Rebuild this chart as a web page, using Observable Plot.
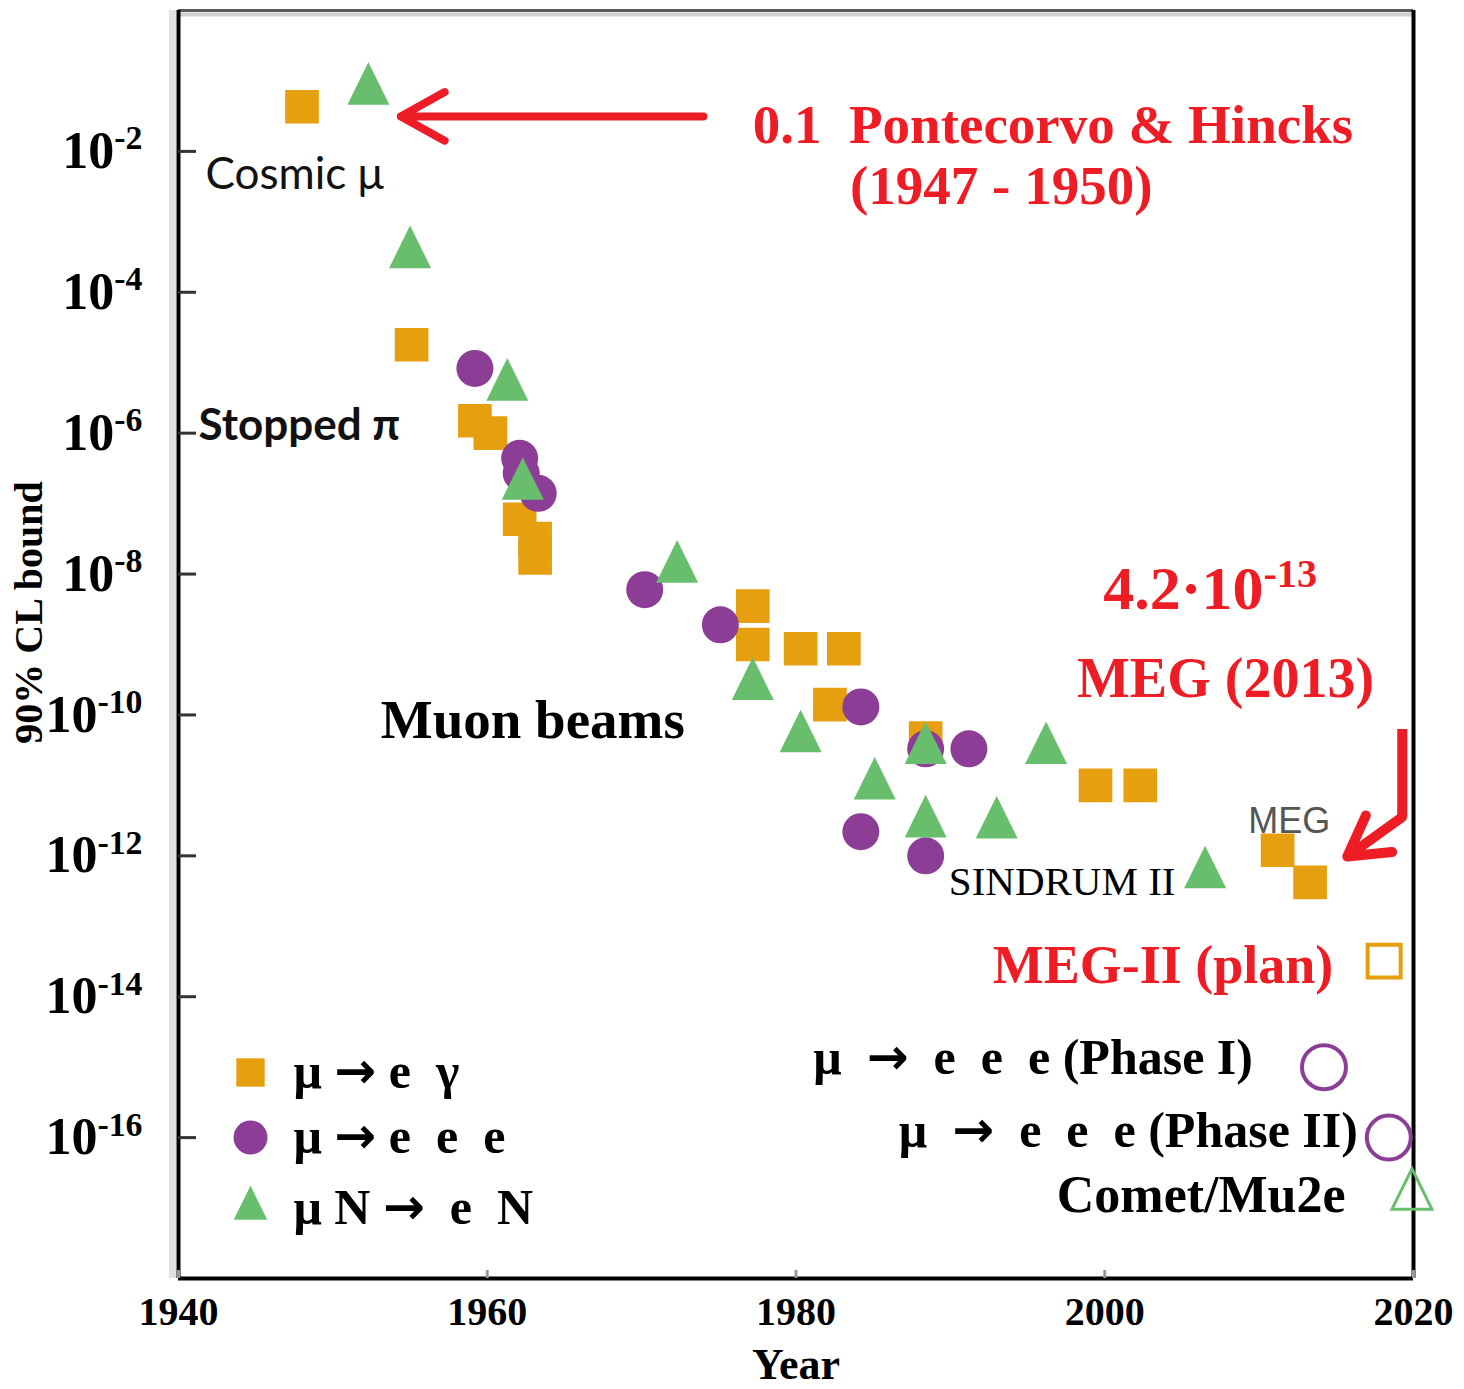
<!DOCTYPE html>
<html>
<head>
<meta charset="utf-8">
<script src="https://cdn.jsdelivr.net/npm/d3@7"></script>
<script src="https://cdn.jsdelivr.net/npm/@observablehq/plot@0.6"></script>
<style>
  html, body { margin: 0; padding: 0; background: #fff; }
  #chart { width: 1464px; height: 1389px; overflow: hidden; }
</style>
</head>
<body>
<div id="chart"></div>
<script>
// ---- data: 90% CL upper bounds on charged lepton flavour violating muon decays ----
const processes = ["μ → e  γ", "μ → e  e  e", "μ N →  e  N"];

// μ → e γ
const muEGammaYear  = [1948.0, 1955.1, 1959.2, 1960.2, 1962.1, 1963.1, 1963.1, 1977.2, 1977.2, 1980.3, 1983.1, 1982.2, 1988.4, 1999.4, 2002.3, 2011.2, 2013.3];
const muEGammaBound = [4.3e-2, 1.8e-5, 1.5e-6, 1.0e-6, 6.0e-8, 3.2e-8, 1.7e-8, 3.5e-9, 1.0e-9, 8.7e-10, 8.7e-10, 1.4e-10, 4.7e-11, 1.0e-11, 1.0e-11, 1.2e-12, 4.2e-13];

// μ → e e e
const muEEEYear  = [1959.2, 1962.1, 1962.2, 1963.3, 1970.2, 1975.1, 1984.2, 1988.4, 1991.2, 1984.2, 1988.4];
const muEEEBound = [8.3e-6, 4.4e-7, 2.7e-7, 1.4e-7, 6.0e-9, 1.9e-9, 1.3e-10, 3.3e-11, 3.3e-11, 2.2e-12, 1.0e-12];

// μ N → e N
const muNENYear  = [1952.3, 1955.0, 1961.3, 1962.3, 1972.3, 1977.2, 1980.3, 1988.4, 1985.1, 1996.2, 1988.4, 1993.0, 2006.5];
const muNENBound = [7.3e-2, 3.5e-4, 4.6e-6, 1.8e-7, 1.2e-8, 2.6e-10, 4.7e-11, 3.2e-11, 1.0e-11, 3.2e-11, 2.9e-12, 2.8e-12, 5.5e-13];

// planned sensitivities (open symbols)
const planProcess = [0, 1, 1, 2];
const planYear    = [2018.1, 2014.2, 2018.4, 2019.9];
const planBound   = [3.2e-14, 1.0e-15, 1.0e-16, 1.5e-17];

// axis ticks
const xTicks = [1940, 1960, 1980, 2000, 2020];
const yTicks = [1e-2, 1e-4, 1e-6, 1e-8, 1e-10, 1e-12, 1e-14, 1e-16];

// text annotations placed in data space (year, bound)
const notes = {
  cosmic:  {text: "Cosmic μ", year: 1941.75, at: 10 ** -2.54},
  stopped: {text: "Stopped π", year: 1941.3, at: 10 ** -6.09},
  beams:   {text: "Muon beams", year: 1953.1, at: 10 ** -10.33},
  ponte1:  {text: "0.1  Pontecorvo & Hincks", year: 1977.2, at: 10 ** -1.886},
  ponte2:  {text: "(1947 - 1950)", year: 1983.5, at: 10 ** -2.74},
  megVal:  {text: "4.2·10^-13", year: 1999.9, at: 10 ** -8.5},
  meg2013: {text: "MEG (2013)", year: 1998.2, at: 10 ** -9.74},
  meg:     {text: "MEG", year: 2009.3, at: 10 ** -11.68},
  sindrum: {text: "SINDRUM II", year: 1989.9, at: 10 ** -12.55},
  megII:   {text: "MEG-II (plan)", year: 2014.8, at: 10 ** -13.81},
  phase1:  {text: "μ  →  e  e  e (Phase I)", year: 2009.6, at: 10 ** -15.09},
  phase2:  {text: "μ  →  e  e  e (Phase II)", year: 2016.4, at: 10 ** -16.13},
  comet:   {text: "Comet/Mu2e", year: 2015.6, at: 10 ** -17.05}
};

// arrows
const ponteArrow = {x1: 1974.0, y1: 10 ** -1.503, x2: 1954.4, y2: 10 ** -1.503};
const megDrop = {x: 2019.27, y1: 10 ** -10.2, y2: 10 ** -11.45};
const megTip = {x: 2015.71, y: 10 ** -12.01};

// ---- styling ----
const SERIF = '"Liberation Serif", "Times New Roman", Times, serif';
const SANS = 'Lato, "Open Sans", sans-serif';
const ORANGE = "#E69F0E", PURPLE = "#8C3D96", GREEN = "#69BE6E", RED = "#EE1C25";

// isosceles triangle, centred on its centroid
const tallTriangle = {
  draw(context, size) {
    const r = Math.sqrt(size / Math.PI);
    context.moveTo(0, -1.42 * r);
    context.lineTo(1.05 * r, 0.71 * r);
    context.lineTo(-1.05 * r, 0.71 * r);
    context.closePath();
  }
};

const rows = (years, bounds) => years.map((year, i) => ({year, bound: bounds[i]}));
const muEGamma = rows(muEGammaYear, muEGammaBound);
const muEEE = rows(muEEEYear, muEEEBound);
const muNEN = rows(muNENYear, muNENBound);
const plans = planYear.map((year, i) => ({year, bound: planBound[i], process: planProcess[i]}));

const note = (key, options) => Plot.text([notes[key]], {
  x: "year", y: "at", text: "text", lineAnchor: "bottom", textAnchor: "start",
  fontFamily: SERIF, fontWeight: "bold", fill: "#000", ...options
});

// the bend of the MEG arrow: extend the diagonal backwards so the head keeps full size
const k = 2;
const megHead = {
  x1: megTip.x + k * (megDrop.x - megTip.x),
  y1: 10 ** (Math.log10(megTip.y) + k * (Math.log10(megDrop.y2) - Math.log10(megTip.y))),
  x2: megTip.x, y2: megTip.y
};

const legendRow = [-206, -141, -70];

const plot = Plot.plot({
  width: 1464,
  height: 1389,
  marginLeft: 178,
  marginRight: 51,
  marginTop: 10,
  marginBottom: 111,
  style: {fontFamily: SERIF, fontWeight: "bold", background: "white", color: "#000"},
  x: {domain: [1940, 2020], label: null},
  y: {type: "log", domain: [1e-18, 1], label: null},
  marks: [
    // frame
    Plot.ruleX([1940], {stroke: "#e0e0e0", strokeWidth: 7, dx: -6}),
    Plot.ruleY([1], {stroke: "#d0d0d0", strokeWidth: 4, dy: 4}),
    Plot.ruleY([1], {stroke: "#5a5a5a", strokeWidth: 3}),
    Plot.ruleX([1940, 2020], {stroke: "#000", strokeWidth: 4}),
    Plot.ruleY([1e-18], {stroke: "#000", strokeWidth: 4}),

    // axes with inward ticks
    Plot.axisX(xTicks, {
      tickSize: 8, dy: -8, tickPadding: 18, stroke: "#999", strokeWidth: 3,
      fill: "#000", fontSize: 40, fontWeight: "bold", tickFormat: "d", label: null
    }),
    Plot.axisY(yTicks, {
      tickSize: 18, dx: 18, tickPadding: 36, stroke: "#333", strokeWidth: 3,
      fill: "#000", fontSize: 52, fontWeight: "bold",
      tickFormat: (d) => `10^-${Math.round(-Math.log10(d))}`, label: null
    }),
    Plot.text(["90% CL bound"], {
      frameAnchor: "left", dx: -137, dy: -32, rotate: -90, textAnchor: "middle",
      lineAnchor: "bottom", fontSize: 40, fontWeight: "bold"
    }),
    Plot.text(["Year"], {frameAnchor: "bottom", dy: 100, lineAnchor: "bottom", fontSize: 44, fontWeight: "bold"}),

    // measured limits
    Plot.dot(muEGamma, {x: "year", y: "bound", symbol: "square", r: 19, fill: ORANGE}),
    Plot.dot(muEEE, {x: "year", y: "bound", r: 18.5, fill: PURPLE}),
    Plot.dot(muNEN, {x: "year", y: "bound", symbol: tallTriangle, r: 20, fill: GREEN}),

    // planned sensitivities
    Plot.dot(plans, {filter: (d) => d.process === 0, x: "year", y: "bound", symbol: "square", r: 18.6, fill: "none", stroke: ORANGE, strokeWidth: 4}),
    Plot.dot(plans, {filter: (d) => d.process === 1, x: "year", y: "bound", r: 22, fill: "none", stroke: PURPLE, strokeWidth: 4}),
    Plot.dot(plans, {filter: (d) => d.process === 2, x: "year", y: "bound", symbol: tallTriangle, r: 19, fill: "none", stroke: GREEN, strokeWidth: 3}),

    // arrows
    Plot.arrow([ponteArrow], {x1: "x1", y1: "y1", x2: "x2", y2: "y2", stroke: RED, strokeWidth: 8, headLength: 9.4, headAngle: 58}),
    Plot.link([megDrop], {x1: "x", x2: "x", y1: "y1", y2: "y2", stroke: RED, strokeWidth: 10}),
    Plot.arrow([megHead], {x1: "x1", y1: "y1", x2: "x2", y2: "y2", stroke: RED, strokeWidth: 10, headLength: 6.8, headAngle: 60, insetStart: 68}),

    // annotations
    note("cosmic", {fontFamily: SANS, fontWeight: "normal", fontSize: 44, fill: "#111"}),
    note("stopped", {fontFamily: SANS, fontWeight: "bold", fontSize: 44, fill: "#111"}),
    note("beams", {fontSize: 55}),
    note("ponte1", {fontSize: 55, fill: RED}),
    note("ponte2", {fontSize: 55, fill: RED}),
    note("megVal", {fontSize: 62, fill: RED}),
    note("meg2013", {fontSize: 56, fill: RED}),
    note("meg", {fontFamily: '"Liberation Sans", Arial, sans-serif', fontWeight: "normal", fontSize: 36, fill: "#555"}),
    note("sindrum", {fontWeight: "normal", fontSize: 41}),
    note("megII", {fontSize: 54, fill: RED, textAnchor: "end"}),
    note("phase1", {fontSize: 50, textAnchor: "end"}),
    note("phase2", {fontSize: 50, textAnchor: "end"}),
    note("comet", {fontSize: 52, textAnchor: "end"}),

    // legend
    Plot.dot([processes[0]], {frameAnchor: "bottom-left", dx: 72, dy: legendRow[0], symbol: "square", r: 16, fill: ORANGE}),
    Plot.dot([processes[1]], {frameAnchor: "bottom-left", dx: 72, dy: legendRow[1], r: 17, fill: PURPLE}),
    Plot.dot([processes[2]], {frameAnchor: "bottom-left", dx: 72, dy: legendRow[2], symbol: tallTriangle, r: 16, fill: GREEN}),
    ...processes.map((label, i) => Plot.text([label], {
      frameAnchor: "bottom-left", dx: 115, dy: legendRow[i] + 15, textAnchor: "start",
      lineAnchor: "bottom", fontSize: 50, fontWeight: "bold"
    }))
  ]
});

// rich text: "base^exponent" becomes a superscript, and arrows use a font with a full-width glyph
const SVGNS = "http://www.w3.org/2000/svg";
const tspan = (s) => {
  const t = document.createElementNS(SVGNS, "tspan");
  t.textContent = s;
  return t;
};
plot.querySelectorAll("text").forEach((t) => {
  const s = t.textContent;
  if (!/[\^→]/.test(s)) return;
  t.textContent = "";
  const [main, exponent] = s.split("^");
  main.split(/(→)/).forEach((part) => {
    if (!part) return;
    const ts = tspan(part);
    if (part === "→") ts.setAttribute("font-family", '"DejaVu Sans", sans-serif');
    t.append(ts);
  });
  if (exponent !== undefined) {
    const sup = tspan(exponent);
    sup.setAttribute("font-size", "0.65em");
    sup.setAttribute("dy", "-0.55em");
    t.append(sup);
  }
});

document.getElementById("chart").append(plot);
</script>
</body>
</html>
